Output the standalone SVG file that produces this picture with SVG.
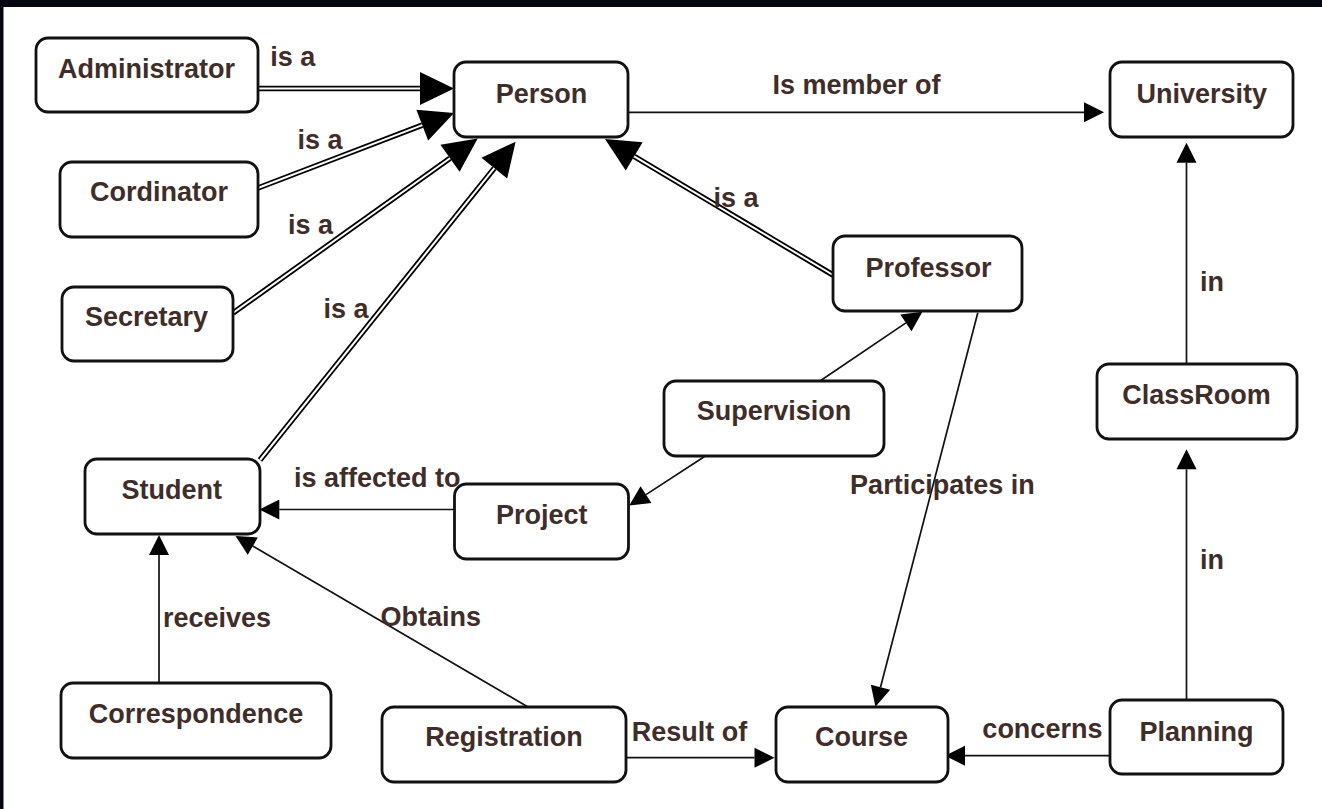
<svg xmlns="http://www.w3.org/2000/svg" width="1322" height="809" viewBox="0 0 1322 809">
<style>
.node rect{fill:#fff;stroke:#111;stroke-width:2.8}
text{font-family:"Liberation Sans",Arial,sans-serif;font-weight:bold;font-size:27px;fill:#3f2d2a}
.node text{text-anchor:middle}
.lbl{text-anchor:middle}
.dbl{fill:none;stroke:#000;stroke-width:5.6;marker-end:url(#big)}
.dblw{fill:none;stroke:#fff;stroke-width:2}
.sgl{fill:none;stroke:#111;stroke-width:1.7;marker-end:url(#small)}
</style>
<defs>
<marker id="big" markerUnits="userSpaceOnUse" markerWidth="36" markerHeight="35" refX="0" refY="16.5" orient="auto" overflow="visible">
<path d="M0,0 L34,16.5 L0,33 z" fill="#000"/>
</marker>
<marker id="small" markerUnits="userSpaceOnUse" markerWidth="22" markerHeight="22" refX="0" refY="10" orient="auto" overflow="visible">
<path d="M0,0 L20,10 L0,20 z" fill="#000"/>
</marker>
</defs>
<rect x="0" y="0" width="1322" height="809" fill="#05080f"/>
<rect x="3.5" y="7" width="1320" height="803" fill="#fff"/>
<g id="connectors">
<path class="dbl" d="M258,88.5 L420,88.5"/>
<path class="dblw" d="M258,88.5 L420,88.5"/>
<path class="dbl" d="M258,188 L422.25,125.15"/>
<path class="dblw" d="M258,188 L422.25,125.15"/>
<path class="dbl" d="M233,313 L450,158.2"/>
<path class="dblw" d="M233,313 L450,158.2"/>
<path class="dbl" d="M260,460 L494.3,168.2"/>
<path class="dblw" d="M260,460 L494.3,168.2"/>
<path class="dbl" d="M833,275 L634.2,156.4"/>
<path class="dblw" d="M833,275 L634.2,156.4"/>
<path class="sgl" d="M628,112.3 L1084,112.3"/>
<path class="sgl" d="M1186.5,364 L1186.5,162.7"/>
<path class="sgl" d="M1186.5,700 L1186.5,469.3"/>
<path class="sgl" d="M1110,755.7 L965,755.7"/>
<path class="sgl" d="M626,757.7 L754.5,757.7"/>
<path class="sgl" d="M977.8,312.7 L880.5,687.3"/>
<path class="sgl" d="M820,381 L905.9,322.9"/>
<path class="sgl" d="M704.2,456.7 L646,494.6"/>
<path class="sgl" d="M454.5,509.5 L279.3,509.5"/>
<path class="sgl" d="M159,683 L159,555"/>
<path class="sgl" d="M528,707 L252.8,546.1"/>
<text class="lbl" x="292.7" y="66">is a</text>
<text class="lbl" x="320" y="148.5">is a</text>
<text class="lbl" x="310.6" y="233.5">is a</text>
<text class="lbl" x="346" y="318">is a</text>
<text class="lbl" x="736" y="206.7">is a</text>
<text class="lbl" x="856.5" y="94.3">Is member of</text>
<text x="1200" y="290.7">in</text>
<text x="1200" y="569.3">in</text>
<text class="lbl" x="1042.4" y="737.7">concerns</text>
<text class="lbl" x="689.5" y="741">Result of</text>
<text class="lbl" x="942.4" y="494.3">Participates in</text>
<text class="lbl" x="377.3" y="486.7">is affected to</text>
<text class="lbl" x="217" y="626.7">receives</text>
<text class="lbl" x="430.8" y="626">Obtains</text>
</g>
<g id="administrator" class="node"><rect x="36" y="38" width="222" height="74" rx="12"/><text x="146.5" y="78.3">Administrator</text></g>
<g id="person" class="node"><rect x="454" y="62" width="174" height="75" rx="12"/><text x="541.5" y="103">Person</text></g>
<g id="university" class="node"><rect x="1110" y="62" width="183" height="75" rx="12"/><text x="1201.7" y="103">University</text></g>
<g id="cordinator" class="node"><rect x="60" y="162" width="198" height="75" rx="12"/><text x="159" y="201">Cordinator</text></g>
<g id="secretary" class="node"><rect x="62" y="287" width="171" height="74" rx="12"/><text x="146.5" y="326">Secretary</text></g>
<g id="professor" class="node"><rect x="833" y="236" width="189" height="75" rx="12"/><text x="928.5" y="277">Professor</text></g>
<g id="supervision" class="node"><rect x="664" y="381" width="220" height="75" rx="12"/><text x="774" y="420">Supervision</text></g>
<g id="classroom" class="node"><rect x="1097" y="364" width="200" height="75" rx="12"/><text x="1196.6" y="404">ClassRoom</text></g>
<g id="student" class="node"><rect x="85" y="459" width="175" height="75" rx="12"/><text x="171.7" y="499">Student</text></g>
<g id="project" class="node"><rect x="454.5" y="484" width="174" height="75" rx="12"/><text x="541.7" y="523.5">Project</text></g>
<g id="correspondence" class="node"><rect x="61" y="683" width="270" height="75" rx="12"/><text x="196" y="723">Correspondence</text></g>
<g id="registration" class="node"><rect x="382" y="707" width="244" height="75" rx="12"/><text x="504" y="746">Registration</text></g>
<g id="course" class="node"><rect x="776" y="707" width="172" height="75" rx="12"/><text x="861.6" y="746">Course</text></g>
<g id="planning" class="node"><rect x="1110" y="700" width="173" height="74" rx="12"/><text x="1196.6" y="741">Planning</text></g>
</svg>
